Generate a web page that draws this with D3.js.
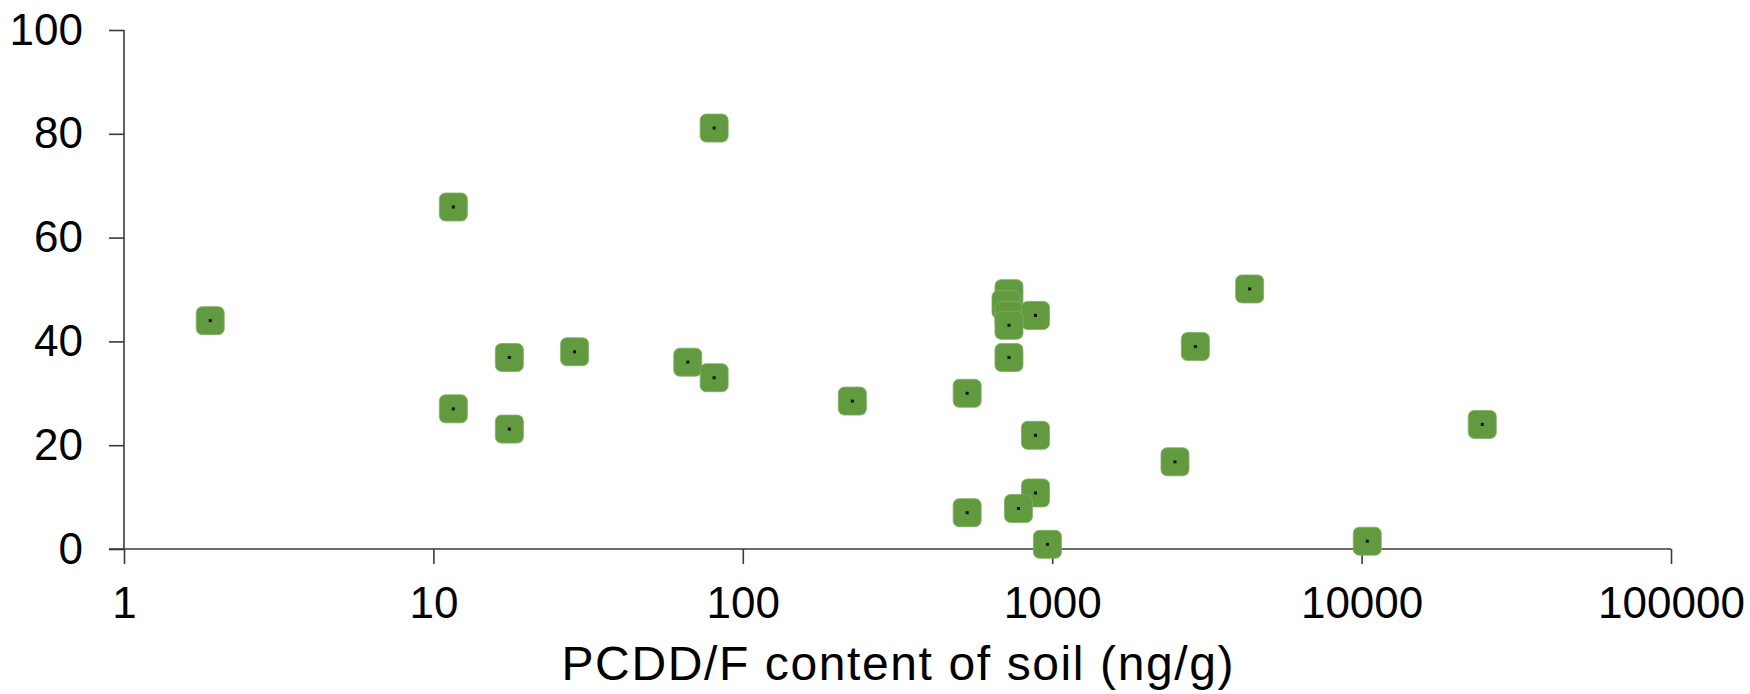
<!DOCTYPE html>
<head>
  <meta charset="utf-8">
  <script src="https://d3js.org/d3.v7.min.js"></script>
</head>
<style>
  body { margin: 0; background: #fff; }
  text { font-family: Arial, "Liberation Sans", sans-serif; fill: #000; }
</style>

<body>
  <div class="chart"></div>

<script>
'use strict';

// PCDD/F content of soil (ng/g) vs. percentage
var soilContent = [1.9, 11.6, 11.6, 17.6, 17.6, 28.6, 80.8, 66.4, 80.8, 226,
                   531, 531, 725, 709, 725, 883, 725, 725, 883, 883,
                   778, 965, 4347, 2902, 24547, 2494, 10430];
var percent     = [44.0, 65.9, 27.0, 36.9, 23.1, 38.0, 81.1, 36.0, 33.0, 28.5,
                   30.0, 7.0, 49.2, 47.1, 45.0, 45.0, 43.1, 36.9, 21.9, 10.8,
                   7.8, 0.9, 50.1, 39.0, 24.0, 16.8, 1.5];

var xTicks = [1, 10, 100, 1000, 10000, 100000];
var yTicks = [0, 20, 40, 60, 80, 100];
var xTitle = "PCDD/F content of soil (ng/g)";

var width = 1750, height = 694;
var margin = {top: 30, right: 79, bottom: 145, left: 124};

var svg = d3.select(".chart").append("svg")
  .attr("width", width)
  .attr("height", height);

var x = d3.scaleLog().domain([1, 100000]).range([margin.left, width - margin.right]);
var y = d3.scaleLinear().domain([0, 100]).range([height - margin.bottom, margin.top]);

var points = soilContent.map(function(d, i) { return {x: d, y: percent[i]}; });

// y axis
var yAxis = svg.append("g")
  .attr("transform", "translate(" + margin.left + ",0)")
  .call(d3.axisLeft(y).tickValues(yTicks).tickSize(15).tickPadding(26).tickFormat(d3.format("d")));

// x axis
var xAxis = svg.append("g")
  .attr("transform", "translate(0," + y(0) + ")")
  .call(d3.axisBottom(x).tickValues(xTicks).tickSize(15).tickPadding(23).tickFormat(d3.format("d")));

[yAxis, xAxis].forEach(function(a) {
  a.select(".domain").attr("stroke", "#3a3a3a").attr("stroke-width", 1.6);
  a.selectAll(".tick line").attr("stroke", "#3a3a3a").attr("stroke-width", 1.6);
  a.selectAll(".tick text").style("font-size", "44px").attr("fill", "#000");
});
// plain domain lines, the 0 tick of y runs into the x axis
yAxis.select(".domain").attr("d", "M0," + y(100) + "V" + y(0));
xAxis.select(".domain").attr("d", "M" + (x(1) - 15) + ",0H" + x(100000));

svg.append("text")
  .attr("x", (x(1) + x(100000)) / 2)
  .attr("y", 680)
  .attr("text-anchor", "middle")
  .attr("textLength", 672)
  .attr("lengthAdjust", "spacing")
  .style("font-size", "48px")
  .text(xTitle);

// markers
var size = 28;
var marks = svg.append("g").attr("class", "points").selectAll("g")
  .data(points).enter()
  .append("g")
  .attr("transform", function(d) { return "translate(" + x(d.x) + "," + y(d.y) + ")"; });

marks.append("rect")
  .attr("x", -size / 2).attr("y", -size / 2)
  .attr("width", size).attr("height", size)
  .attr("rx", 6).attr("ry", 6)
  .attr("fill", "#629a3f")
  .attr("stroke", "#7fb060")
  .attr("stroke-width", 0.8);

marks.append("rect")
  .attr("x", -1.5).attr("y", -1.5)
  .attr("width", 3).attr("height", 3)
  .attr("fill", "#111");
</script>
</body>
